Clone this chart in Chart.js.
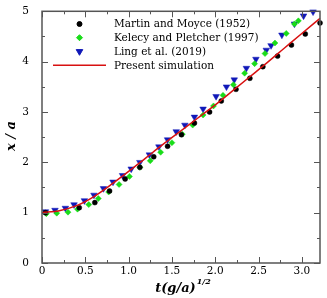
<!DOCTYPE html>
<html>
<head>
<meta charset="utf-8">
<script src="https://cdn.jsdelivr.net/npm/chart.js@4.4.1/dist/chart.umd.min.js"></script>
<style>
    html, body { margin: 0; padding: 0; background: #fff; }
    #wrap { width: 327px; height: 298px; }
</style>
</head>
<body>
<div id="wrap"><canvas id="plungeChart" width="327" height="298"></canvas></div>
<script>
// Martin and Moyce (1952)
const martinT = [0.04, 0.43, 0.61, 0.78, 0.96, 1.13, 1.29, 1.45, 1.61, 1.76, 1.935, 2.07, 2.24, 2.40, 2.55, 2.72, 2.88, 3.04, 3.21];
const martinX = [1.00, 1.10, 1.20, 1.43, 1.67, 1.90, 2.11, 2.32, 2.55, 2.78, 3.00, 3.22, 3.45, 3.67, 3.90, 4.11, 4.33, 4.55, 4.77];

// Kelecy and Pletcher (1997)
const kelecyT = [0.05, 0.17, 0.30, 0.41, 0.54, 0.65, 0.77, 0.89, 1.01, 1.13, 1.25, 1.37, 1.50, 1.62, 1.74, 1.86, 1.98, 2.09, 2.21, 2.34, 2.455, 2.575, 2.69, 2.82, 2.915, 2.96];
const kelecyX = [0.98, 0.99, 1.01, 1.07, 1.16, 1.28, 1.41, 1.56, 1.72, 1.90, 2.03, 2.20, 2.39, 2.56, 2.74, 2.94, 3.12, 3.33, 3.54, 3.77, 3.96, 4.16, 4.37, 4.56, 4.75, 4.81];

// Ling et al. (2019)
const lingT = [0.04, 0.15, 0.27, 0.37, 0.49, 0.60, 0.71, 0.82, 0.93, 1.03, 1.13, 1.24, 1.35, 1.45, 1.55, 1.65, 1.76, 1.86, 2.01, 2.13, 2.22, 2.36, 2.47, 2.59, 2.645, 2.77, 2.915, 3.02, 3.13];
const lingX = [1.02, 1.05, 1.09, 1.16, 1.24, 1.35, 1.48, 1.61, 1.74, 1.87, 2.00, 2.15, 2.31, 2.45, 2.61, 2.74, 2.90, 3.06, 3.31, 3.50, 3.64, 3.87, 4.05, 4.23, 4.32, 4.53, 4.75, 4.91, 4.99];

// Present simulation
const simT = [0, 0.2, 0.4, 0.6, 0.8, 1.0, 1.2, 1.4, 1.6, 1.8, 2.0, 2.2, 2.4, 2.6, 2.8, 3.0, 3.21];
const simX = [1.00, 1.04, 1.14, 1.32, 1.56, 1.82, 2.09, 2.36, 2.62, 2.88, 3.14, 3.42, 3.70, 3.98, 4.27, 4.56, 4.86];

const seriesNames = ['Martin and Moyce (1952)', 'Kelecy and Pletcher (1997)', 'Ling et al. (2019)', 'Present simulation'];

const FONT = 'DejaVu Serif';
const AXIS_COLOR = '#555';

function pairs(ts, xs) {
    return ts.map((t, i) => ({ x: t, y: xs[i] }));
}

// рамка, засечки внутрь, легенда и подписи осей
const decorPlugin = {
    id: 'decor',
    afterDatasetsDraw(chart) {
        const ctx = chart.ctx;
        const area = chart.chartArea;
        const sx = chart.scales.x;
        const sy = chart.scales.y;
        ctx.save();

        ctx.strokeStyle = AXIS_COLOR;
        ctx.lineWidth = 1.5;
        ctx.strokeRect(area.left, area.top, area.right - area.left, area.bottom - area.top);

        ctx.lineWidth = 1;
        for (let v = 0; v <= sx.max + 1e-9; v += 0.25) {
            const px = Math.round(sx.getPixelForValue(v)) + 0.5;
            const len = (Math.abs(v * 2 - Math.round(v * 2)) < 1e-6) ? 6 : 3;
            ctx.beginPath();
            ctx.moveTo(px, area.bottom);
            ctx.lineTo(px, area.bottom - len);
            ctx.moveTo(px, area.top);
            ctx.lineTo(px, area.top + len);
            ctx.stroke();
        }
        for (let v = 0; v <= sy.max + 1e-9; v += 0.5) {
            const py = Math.round(sy.getPixelForValue(v)) + 0.5;
            const len = (Math.abs(v - Math.round(v)) < 1e-6) ? 6 : 3;
            ctx.beginPath();
            ctx.moveTo(area.left, py);
            ctx.lineTo(area.left + len, py);
            ctx.moveTo(area.right, py);
            ctx.lineTo(area.right - len, py);
            ctx.stroke();
        }

        // легенда
        const rows = [24, 37.7, 51.5, 65.3];
        ctx.font = '10.5px "' + FONT + '"';
        ctx.textBaseline = 'middle';
        ctx.textAlign = 'left';
        chart.data.datasets.forEach((ds, i) => {
            const y = rows[i];
            if (ds.showLine) {
                ctx.strokeStyle = ds.borderColor;
                ctx.lineWidth = ds.borderWidth;
                ctx.beginPath();
                ctx.moveTo(53, y);
                ctx.lineTo(106, y);
                ctx.stroke();
            } else {
                ctx.fillStyle = ds.pointBackgroundColor;
                ctx.strokeStyle = ds.pointBorderColor;
                ctx.lineWidth = 1;
                Chart.helpers.drawPoint(ctx, {
                    pointStyle: ds.pointStyle,
                    radius: ds.pointRadius,
                    rotation: ds.pointRotation || 0,
                    borderWidth: 1
                }, 79.5, y);
            }
            ctx.fillStyle = '#000';
            ctx.fillText(ds.label, 114, y + 0.5);
        });

        // подпись оси x: t(g/a)^{1/2}
        const mainTxt = 't(g/a)';
        const supTxt = '1/2';
        ctx.font = 'italic bold 13px "' + FONT + '"';
        const wMain = ctx.measureText(mainTxt).width;
        ctx.font = 'italic bold 8px "' + FONT + '"';
        const wSup = ctx.measureText(supTxt).width;
        let x0 = 183 - (wMain + wSup + 1) / 2;
        ctx.textBaseline = 'alphabetic';
        ctx.font = 'italic bold 13px "' + FONT + '"';
        ctx.fillText(mainTxt, x0, 292);
        ctx.font = 'italic bold 8px "' + FONT + '"';
        ctx.fillText(supTxt, x0 + wMain + 1, 284);

        // подпись оси y
        ctx.translate(15, 136);
        ctx.rotate(-Math.PI / 2);
        ctx.font = 'italic bold 13px "' + FONT + '"';
        ctx.textAlign = 'center';
        ctx.fillText('x / a', 0, 0);
        ctx.restore();
    }
};

const ctx = document.getElementById('plungeChart').getContext('2d');
new Chart(ctx, {
    type: 'scatter',
    data: {
        datasets: [{
            label: seriesNames[0],
            data: pairs(martinT, martinX),
            pointStyle: 'circle',
            pointRadius: 2.5,
            pointBackgroundColor: '#000',
            pointBorderColor: '#000',
            pointBorderWidth: 0.5,
            clip: false,
            order: 1
        }, {
            label: seriesNames[1],
            data: pairs(kelecyT, kelecyX),
            pointStyle: 'rectRot',
            pointRadius: 3,
            pointBackgroundColor: '#19dc19',
            pointBorderColor: '#19dc19',
            pointBorderWidth: 0.5,
            clip: false,
            order: 2
        }, {
            label: seriesNames[2],
            data: pairs(lingT, lingX),
            pointStyle: 'triangle',
            pointRotation: 180,
            pointRadius: 3.8,
            pointBackgroundColor: '#1018b8',
            pointBorderColor: '#1018b8',
            pointBorderWidth: 0.5,
            clip: false,
            order: 3
        }, {
            label: seriesNames[3],
            data: pairs(simT, simX),
            showLine: true,
            borderColor: '#d81010',
            borderWidth: 1.5,
            pointRadius: 0,
            cubicInterpolationMode: 'monotone',
            clip: false,
            order: 0
        }]
    },
    options: {
        responsive: false,
        animation: false,
        events: [],
        layout: { padding: { top: 9.5, right: 7, left: 0, bottom: 0 } },
        plugins: {
            legend: { display: false },
            tooltip: { enabled: false }
        },
        scales: {
            x: {
                type: 'linear',
                min: 0,
                max: 3.21,
                grid: { display: false },
                border: { display: false },
                ticks: {
                    stepSize: 0.5,
                    includeBounds: false,
                    autoSkip: false,
                    maxRotation: 0,
                    padding: -6,
                    color: '#000',
                    font: { family: FONT, size: 10.5 }
                },
                afterFit: function (scale) { scale.height = 35; }
            },
            y: {
                type: 'linear',
                min: 0,
                max: 5,
                grid: { display: false },
                border: { display: false },
                ticks: {
                    stepSize: 1,
                    autoSkip: false,
                    padding: 5,
                    color: '#000',
                    font: { family: FONT, size: 10.5 }
                },
                afterFit: function (scale) { scale.width = 42; }
            }
        }
    },
    plugins: [decorPlugin]
});
</script>
</body>
</html>
